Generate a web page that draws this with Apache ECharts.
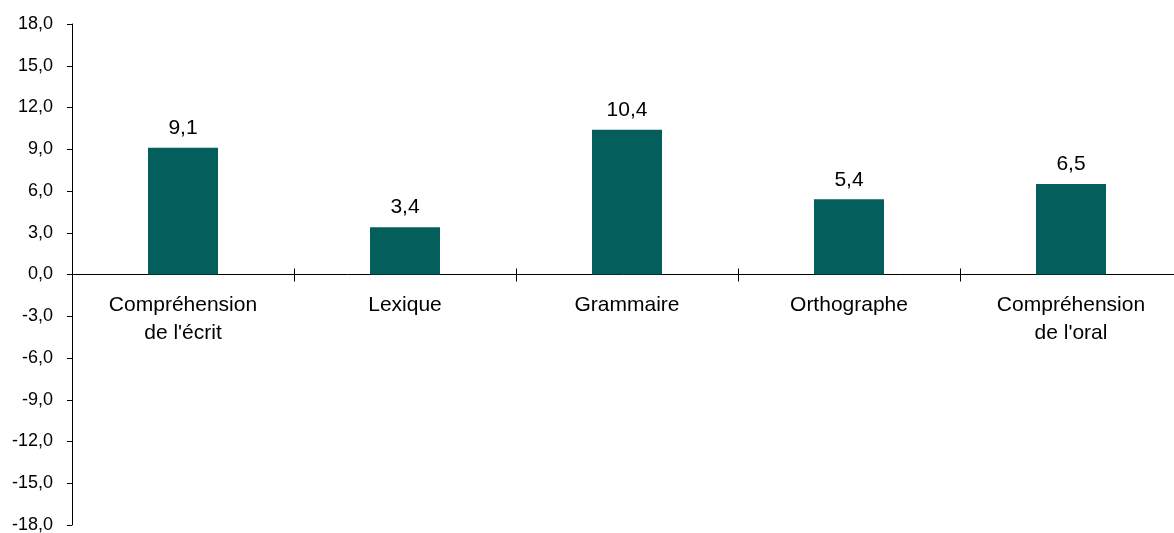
<!DOCTYPE html>
<html><head><meta charset="utf-8">
<script src="https://cdn.jsdelivr.net/npm/echarts@6/dist/echarts.min.js"></script>
<style>html,body{margin:0;padding:0;background:#fff}#c{width:1174px;height:533px}</style>
</head><body><div id="c"></div>
<script>
const categories = ["Compréhension\nde l'écrit", "Lexique", "Grammaire", "Orthographe", "Compréhension\nde l'oral"];
const values = [9.1, 3.4, 10.4, 5.4, 6.5];
const yMin = -18, yMax = 18, yInterval = 3;
const FONT = "'Liberation Sans', Arial, sans-serif";
const fmt = v => v.toFixed(1).replace('.', ',');
// category indices whose left boundary gets an upward tick half
const boundaryIdx = [1, 2, 3, 4];
const GRID_TOP = 24, GRID_H = 501;
const zeroOffset = GRID_H * (0 - yMin) / (yMax - yMin);
const chart = echarts.init(document.getElementById('c'), null, {renderer: 'canvas'});
chart.setOption({
  animation: false,
  grid: {left: 72, top: GRID_TOP, width: 1110, height: GRID_H, containLabel: false, outerBoundsMode: 'none'},
  xAxis: [{
    type: 'category', data: categories,
    axisLine: {onZero: true, lineStyle: {color: '#000', width: 1}},
    axisTick: {show: true, length: 7, lineStyle: {color: '#000'}},
    axisLabel: {show: false}
  }, {
    type: 'category', data: categories, position: 'bottom', offset: -zeroOffset,
    axisLine: {show: false, onZero: false},
    axisTick: {show: false},
    axisLabel: {fontFamily: FONT, fontSize: 21, color: '#000', margin: 17, lineHeight: 28, interval: 0}
  }],
  yAxis: {
    type: 'value', min: yMin, max: yMax, interval: yInterval,
    splitLine: {show: false},
    axisLine: {show: true, lineStyle: {color: '#000'}},
    axisTick: {show: true, length: 5, lineStyle: {color: '#000'}},
    axisLabel: {fontFamily: FONT, fontSize: 18, color: '#000', margin: 19, formatter: v => fmt(v)}
  },
  series: [{
    type: 'bar', data: values, barWidth: 70, xAxisIndex: 0,
    itemStyle: {color: '#035e5c'},
    label: {show: true, position: 'top', distance: 9, fontFamily: FONT, fontSize: 21, color: '#000', formatter: p => fmt(p.value)}
  }, {
    type: 'custom', silent: true, z: 5, xAxisIndex: 0,
    data: boundaryIdx.map(i => [i, 0]),
    renderItem: (params, api) => {
      const p = api.coord([api.value(0), api.value(1)]);
      const w = api.size([1, 0])[0];
      const x = Math.round(p[0] - w / 2) + 0.5;
      return {type: 'line', shape: {x1: x, y1: p[1] - 6, x2: x, y2: p[1]}, style: {stroke: '#000', lineWidth: 1}};
    }
  }]
});
</script></body></html>
